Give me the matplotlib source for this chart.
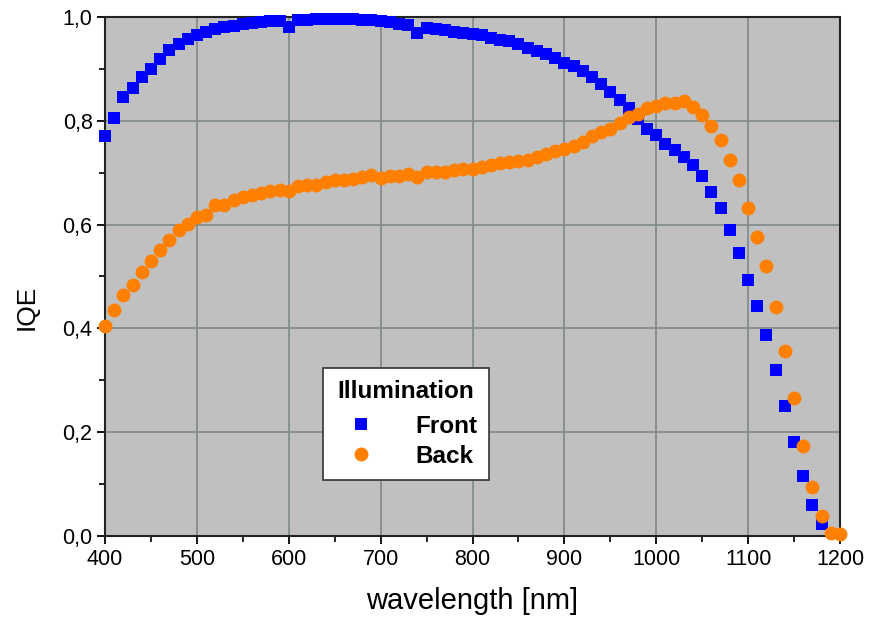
import numpy as np
import matplotlib
matplotlib.use('Agg')
import matplotlib.pyplot as plt
from matplotlib.ticker import MultipleLocator, FuncFormatter

plt.rcParams['font.family'] = ['Liberation Sans', 'DejaVu Sans']

# wavelength grid (nm)
wl_front = np.arange(400, 1190, 10)
wl_back = np.arange(400, 1210, 10)

iqe_front = [0.770, 0.805, 0.846, 0.863, 0.884, 0.900, 0.919, 0.937, 0.947, 0.958,
             0.965, 0.971, 0.976, 0.980, 0.983, 0.986, 0.988, 0.990, 0.992, 0.993,
             0.981, 0.994, 0.995, 0.996, 0.997, 0.997, 0.997, 0.996, 0.995, 0.994,
             0.992, 0.990, 0.987, 0.984, 0.970, 0.978, 0.977, 0.974, 0.971, 0.969,
             0.968, 0.966, 0.960, 0.956, 0.953, 0.947, 0.941, 0.935, 0.929, 0.921,
             0.912, 0.905, 0.896, 0.884, 0.870, 0.856, 0.840, 0.824, 0.803, 0.785,
             0.773, 0.756, 0.744, 0.731, 0.715, 0.693, 0.663, 0.631, 0.590, 0.545,
             0.493, 0.443, 0.387, 0.320, 0.250, 0.182, 0.116, 0.060, 0.023]

iqe_back = [0.405, 0.435, 0.464, 0.484, 0.508, 0.529, 0.551, 0.570, 0.590, 0.602,
            0.615, 0.618, 0.638, 0.638, 0.647, 0.653, 0.657, 0.661, 0.665, 0.667,
            0.665, 0.674, 0.677, 0.677, 0.683, 0.685, 0.686, 0.688, 0.691, 0.695,
            0.690, 0.694, 0.694, 0.697, 0.692, 0.702, 0.702, 0.702, 0.706, 0.708,
            0.708, 0.711, 0.715, 0.718, 0.720, 0.722, 0.724, 0.731, 0.736, 0.741,
            0.746, 0.752, 0.760, 0.770, 0.779, 0.785, 0.796, 0.808, 0.814, 0.824,
            0.829, 0.834, 0.835, 0.839, 0.826, 0.811, 0.790, 0.763, 0.724, 0.685,
            0.631, 0.577, 0.520, 0.442, 0.356, 0.265, 0.173, 0.094, 0.038, 0.006,
            0.003]

fig = plt.figure(figsize=(8.71, 6.24), dpi=100)
ax = fig.add_axes([0.1206, 0.141, 0.8438, 0.8318])
ax.set_facecolor('#c0c0c0')

ax.plot(wl_front, iqe_front, 's', color='#0000ff', ms=9, mew=0, label='Front',
        clip_on=False, zorder=3)
ax.plot(wl_back, iqe_back, 'o', color='#ff8000', ms=10, mew=0, label='Back',
        clip_on=False, zorder=3)

ax.set_xlim(400, 1200)
ax.set_ylim(0, 1.0)
ax.xaxis.set_major_locator(MultipleLocator(100))
ax.xaxis.set_minor_locator(MultipleLocator(50))
ax.yaxis.set_major_locator(MultipleLocator(0.2))
ax.yaxis.set_minor_locator(MultipleLocator(0.1))
ax.yaxis.set_major_formatter(FuncFormatter(lambda v, p: f'{v:.1f}'.replace('.', ',')))

ax.grid(True, which='major', color='#808888', linewidth=1.2)
ax.set_axisbelow(True)
ax.tick_params(which='major', direction='out', length=6, width=1.3, labelsize=15.5)
ax.tick_params(axis='y', which='major', pad=3)
ax.tick_params(which='minor', direction='out', length=4, width=1.2)
for s in ax.spines.values():
    s.set_linewidth(1.5)
    s.set_color('#222222')

ax.set_xlabel('wavelength [nm]', fontsize=21, labelpad=12)
ax.set_ylabel('IQE', fontsize=19)
ax.yaxis.set_label_coords(-0.09, 0.44)

leg = ax.legend(title='Illumination', loc='lower left', bbox_to_anchor=(0.296, 0.108),
                frameon=True, fancybox=False, edgecolor='#333333', framealpha=1,
                prop={'weight': 'bold', 'size': 17.5}, title_fontproperties={'weight': 'bold', 'size': 17.5},
                handletextpad=1.1, borderpad=0.5, labelspacing=0.3, borderaxespad=0,
                handlelength=2.2)
leg.get_frame().set_linewidth(1.2)
leg._legend_box.sep = 8

fig.savefig('out.png', dpi=100)
